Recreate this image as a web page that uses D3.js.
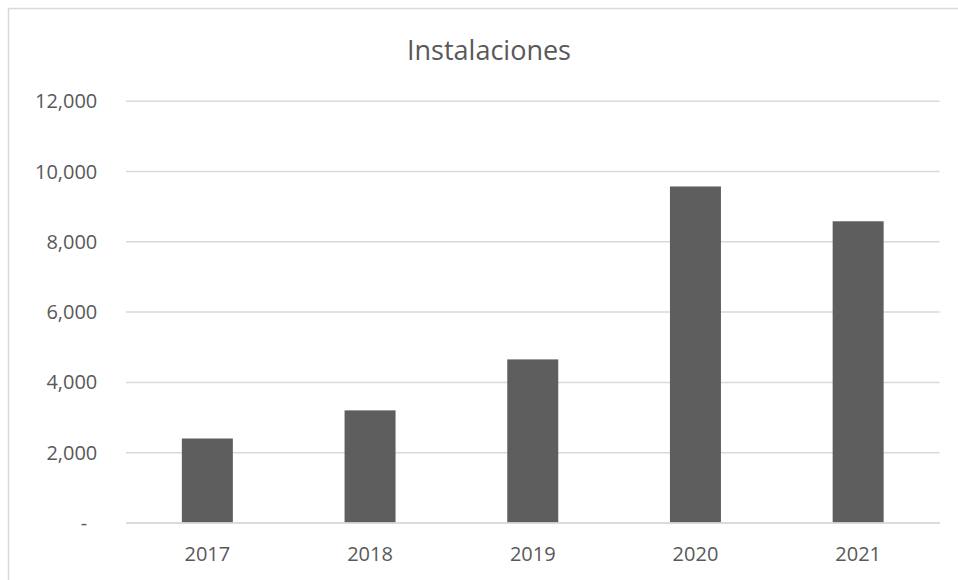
<!DOCTYPE html>
<html>
<head>
<meta charset="utf-8">
<script src="https://cdn.jsdelivr.net/npm/d3@7"></script>
<style>
  body { margin: 0; background: #fff; }
  text { font-family: "Open Sans", sans-serif; fill: #595959; }
</style>
</head>
<body>
<svg id="chart"></svg>
<script>
const years = ["2017", "2018", "2019", "2020", "2021"];
const installs = [2390, 3190, 4640, 9560, 8570];
const yTicks = [0, 2000, 4000, 6000, 8000, 10000, 12000];

const w = 958;
const h = 580;
const plotLeft = 126;
const plotRight = 939.5;
const plotTop = 100.7;
const plotBottom = 522.5;
const barColor = "#5e5e5e";
const gridColor = "#d9d9d9";

const svg = d3.select("#chart").attr("width", w).attr("height", h);

// chart border (runs off the right and bottom edges)
svg
  .append("rect")
  .attr("x", 8.5)
  .attr("y", 8.5)
  .attr("width", 1000)
  .attr("height", 700)
  .attr("fill", "none")
  .attr("stroke", gridColor)
  .attr("stroke-width", 1.5);

svg
  .append("text")
  .attr("x", 489)
  .attr("y", 60)
  .attr("text-anchor", "middle")
  .style("font-size", "27px")
  .text("Instalaciones");

const xScale = d3
  .scaleBand()
  .domain(years)
  .range([plotLeft, plotRight])
  .paddingInner(0.6866)
  .paddingOuter(0.6866 / 2);

const yScale = d3.scaleLinear().domain([0, 12000]).range([plotBottom, plotTop]);

const fmt = d3.format(",");

// gridlines + y labels
const yAxis = d3
  .axisLeft(yScale)
  .tickValues(yTicks)
  .tickSize(-(plotRight - plotLeft))
  .tickPadding(28)
  .tickFormat((d) => (d === 0 ? "-" : fmt(d)));

const yG = svg
  .append("g")
  .attr("transform", "translate(" + plotLeft + ",0)")
  .call(yAxis);
yG.select(".domain").remove();
yG.selectAll(".tick line").attr("stroke", gridColor).attr("stroke-width", 1.5);
yG.selectAll(".tick text")
  .style("font-size", "20px")
  .attr("fill", "#595959")
  .attr("dy", "0.35em")
  .attr("x", (d) => (d === 0 ? -42 : -28.7))
  .attr("text-anchor", (d) => (d === 0 ? "middle" : "end"));

// bars
svg
  .selectAll("rect.bar")
  .data(installs)
  .enter()
  .append("rect")
  .attr("class", "bar")
  .attr("x", (d, i) => xScale(years[i]))
  .attr("y", (d) => yScale(d))
  .attr("width", xScale.bandwidth())
  .attr("height", (d) => yScale(0) - yScale(d))
  .attr("fill", barColor);

// x axis baseline + labels
const xAxis = d3.axisBottom(xScale).tickSize(0).tickPadding(24);
const xG = svg
  .append("g")
  .attr("transform", "translate(0," + plotBottom + ")")
  .call(xAxis);
xG.select(".domain").attr("stroke", gridColor).attr("stroke-width", 1.5);
xG.selectAll(".tick text").style("font-size", "20px").attr("fill", "#595959");
</script>
</body>
</html>
